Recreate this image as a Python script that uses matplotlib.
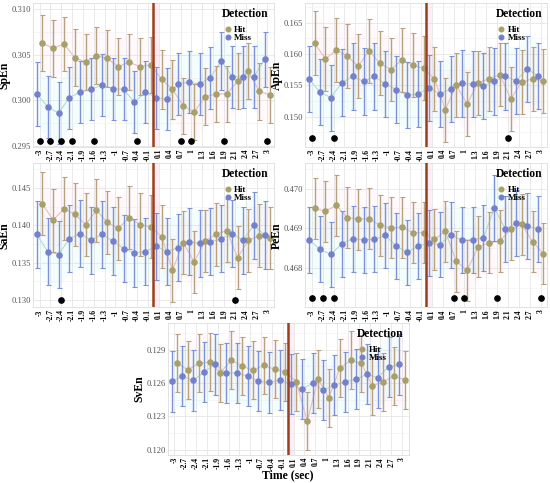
import matplotlib
matplotlib.use('Agg')
import matplotlib.pyplot as plt
from matplotlib.lines import Line2D
from matplotlib.ticker import MultipleLocator
import numpy as np

plt.rcParams['font.family'] = ['Liberation Serif', 'DejaVu Serif']

time_labels = ['-3', '-2.7', '-2.4', '-2.1', '-1.9', '-1.6', '-1.3', '-1', '-0.7', '-0.4', '-0.1',
               '0.1', '0.4', '0.7', '1', '1.3', '1.6', '1.9', '2.1', '2.4', '2.7', '3']

spen_hit = [0.3063, 0.3057, 0.3062, 0.3047, 0.3042, 0.3049, 0.3046, 0.3037, 0.3042, 0.3037, 0.3039,
            0.3023, 0.3012, 0.2994, 0.2987, 0.3004, 0.3007, 0.3007, 0.3021, 0.3032, 0.3010, 0.3006]
spen_miss = [0.3007, 0.2993, 0.2986, 0.3003, 0.3009, 0.3012, 0.3017, 0.3013, 0.3012, 0.2998, 0.3009,
             0.3003, 0.3001, 0.3018, 0.3020, 0.3018, 0.3025, 0.3043, 0.3026, 0.3026, 0.3026, 0.3045]
spen_hit_err = [0.0031, 0.0031, 0.0030, 0.0031, 0.0031, 0.0031, 0.0031, 0.0031, 0.0031, 0.0031, 0.0031,
                0.0032, 0.0032, 0.0031, 0.0031, 0.0031, 0.0031, 0.0031, 0.0031, 0.0031, 0.0031, 0.0031]
spen_miss_err = [0.0035, 0.0034, 0.0034, 0.0034, 0.0034, 0.0034, 0.0034, 0.0034, 0.0034, 0.0034, 0.0034,
                 0.0034, 0.0034, 0.0034, 0.0034, 0.0034, 0.0034, 0.0032, 0.0034, 0.0034, 0.0034, 0.0030]

apen_hit = [0.1617, 0.1592, 0.1606, 0.1597, 0.1580, 0.1605, 0.1585, 0.1575, 0.1590, 0.1582, 0.1577,
            0.1560, 0.1511, 0.1550, 0.1520, 0.1554, 0.1560, 0.1567, 0.1528, 0.1555, 0.1560, 0.1557]
apen_miss = [0.1560, 0.1539, 0.1530, 0.1554, 0.1564, 0.1556, 0.1564, 0.1552, 0.1543, 0.1534, 0.1536,
             0.1546, 0.1536, 0.1544, 0.1553, 0.1552, 0.1549, 0.1556, 0.1564, 0.1557, 0.1576, 0.1565]
apen_hit_err = [0.0051] * 22
apen_miss_err = [0.0053] * 22

saen_hit = [0.1429, 0.1407, 0.1422, 0.1415, 0.1401, 0.1420, 0.1404, 0.1396, 0.1410, 0.1401, 0.1398,
            0.1385, 0.1340, 0.1377, 0.1351, 0.1379, 0.1388, 0.1393, 0.1357, 0.1380, 0.1386, 0.1383]
saen_miss = [0.1388, 0.1365, 0.1361, 0.1382, 0.1389, 0.1380, 0.1388, 0.1379, 0.1369, 0.1363, 0.1365,
             0.1372, 0.1365, 0.1370, 0.1378, 0.1376, 0.1378, 0.1382, 0.1389, 0.1380, 0.1400, 0.1387]
saen_hit_err = [0.0042] * 22
saen_miss_err = [0.0045] * 22

peen_hit = [0.46950, 0.46943, 0.46958, 0.46927, 0.46923, 0.46924, 0.46908, 0.46901, 0.46903, 0.46889, 0.46889,
            0.46872, 0.46892, 0.46817, 0.46794, 0.46853, 0.46863, 0.46868, 0.46897, 0.46910, 0.46866, 0.46836]
peen_miss = [0.46871, 0.46847, 0.46834, 0.46861, 0.46874, 0.46871, 0.46872, 0.46882, 0.46855, 0.46839, 0.46855,
             0.46863, 0.46859, 0.46884, 0.46870, 0.46871, 0.46876, 0.46951, 0.46898, 0.46913, 0.46906, 0.46899]
peen_hit_err = [0.00077] * 22
peen_miss_err = [0.00083] * 22

sven_hit = [0.12782, 0.12717, 0.12779, 0.12788, 0.12693, 0.12806, 0.12752, 0.12714, 0.12758, 0.12723, 0.12702,
            0.12611, 0.12257, 0.12634, 0.12469, 0.12732, 0.12806, 0.12776, 0.12575, 0.12611, 0.12664, 0.12629]
sven_miss = [0.12614, 0.12664, 0.12623, 0.12702, 0.12767, 0.12693, 0.12690, 0.12664, 0.12617, 0.12605, 0.12626,
             0.12590, 0.12543, 0.12599, 0.12537, 0.12581, 0.12611, 0.12634, 0.12679, 0.12649, 0.12744, 0.12767]
sven_hit_err = [0.0026] * 22
sven_miss_err = [0.0027] * 22

spen_sig = [0, 1, 2, 3, 5, 9, 13, 14, 17, 21]
apen_sig = [0, 2, 18]
saen_sig = [2, 18]
peen_sig = [0, 1, 2, 13, 14, 17, 21]
sven_sig = []

HIT = '#a89f6a'
MISS = '#7480cc'
HIT_EB = '#b9a07e'
MISS_EB = '#7d92d6'

fig = plt.figure(figsize=(5.5, 4.83), dpi=100)


def panel(rect, name, hit, hit_err, miss, miss_err, sig, sig_y, ylim, yticks, xlabel=None):
    ax = fig.add_axes(rect)
    x = np.arange(len(time_labels))
    xh = x + 0.25
    xm = x - 0.25
    hit = np.array(hit); miss = np.array(miss)
    he = np.array(hit_err); me = np.array(miss_err)
    ax.fill_between(xh, hit - he, hit + he, color='#ff9ec8', alpha=0.06, lw=0, zorder=1)
    ax.fill_between(xm, miss - me, miss + me, color='#7fe8e8', alpha=0.08, lw=0, zorder=1)
    ax.axvspan(10.5, 11.05, color='#ffc8e0', alpha=0.3, lw=0, zorder=1)
    ax.plot(xh, hit, color='#e8bcbc', lw=0.8, zorder=2)
    ax.plot(xm, miss, color='#acdcd6', lw=0.8, zorder=2)
    ax.errorbar(xh, hit, yerr=he, fmt='none', ecolor=HIT_EB, elinewidth=1.0, capsize=1.8, capthick=0.8, zorder=3)
    ax.errorbar(xm, miss, yerr=me, fmt='none', ecolor=MISS_EB, elinewidth=1.0, capsize=1.8, capthick=0.8, zorder=3)
    ax.plot(xh, hit, 'o', color=HIT, ms=3.7, zorder=4)
    ax.plot(xm, miss, 'o', color=MISS, ms=3.7, zorder=4)
    if sig:
        ax.plot(sig, [sig_y] * len(sig), 'o', color='black', ms=3.8, zorder=5)
    ax.axvline(10.5, color='#9a3f1c', lw=1.8, zorder=6)
    ax.set_xlim(-0.6, 21.6)
    ax.set_ylim(*ylim)
    ax.set_yticks(yticks)
    ax.set_yticklabels([f'{t:.3f}' for t in yticks], fontsize=6.2, color='#555555')
    ax.set_xticks(x)
    ax.set_xticklabels(time_labels, rotation=90, fontsize=5.5, fontweight='bold')
    step = yticks[1] - yticks[0]
    ax.yaxis.set_minor_locator(MultipleLocator(step / 2))
    ax.grid(True, which='major', color='#e6e6e6', lw=0.6)
    ax.grid(True, which='minor', axis='y', color='#f0f0f0', lw=0.4)
    ax.set_axisbelow(True)
    ax.tick_params(length=0, pad=1.5)
    ax.tick_params(which='minor', length=0)
    for s in ax.spines.values():
        s.set_color('#dddddd')
        s.set_linewidth(0.6)
    ax.set_ylabel(name, fontsize=8.5, fontweight='bold', labelpad=0.5)
    if xlabel:
        ax.set_xlabel(xlabel, fontsize=8.5, fontweight='bold', labelpad=0)
    handles = [Line2D([], [], marker='o', ls='none', color=HIT, ms=3.3, label='Hit'),
               Line2D([], [], marker='o', ls='none', color=MISS, ms=3.3, label='Miss')]
    leg = ax.legend(handles=handles, title='Detection', loc='upper right', frameon=False,
                    fontsize=6.5, handletextpad=0.1, borderaxespad=0.25, labelspacing=0.0,
                    handlelength=1.2, alignment='left', borderpad=0.3)
    leg.get_title().set_fontweight('bold')
    leg.get_title().set_fontsize(8.3)
    leg._legend_box.sep = 4
    for t in leg.get_texts():
        t.set_fontweight('bold')
    return ax


panel([0.060, 0.696, 0.438, 0.298], 'SpEn', spen_hit, spen_hit_err, spen_miss, spen_miss_err,
      spen_sig, 0.2955, (0.2949, 0.3107), [0.295, 0.300, 0.305, 0.310])
panel([0.555, 0.696, 0.440, 0.298], 'ApEn', apen_hit, apen_hit_err, apen_miss, apen_miss_err,
      apen_sig, 0.1466, (0.14516, 0.16814), [0.150, 0.155, 0.160, 0.165])
panel([0.060, 0.364, 0.438, 0.298], 'SaEn', saen_hit, saen_hit_err, saen_miss, saen_miss_err,
      saen_sig, 0.1300, (0.12906, 0.1483), [0.130, 0.135, 0.140, 0.145])
panel([0.555, 0.364, 0.440, 0.298], 'PeEn', peen_hit, peen_hit_err, peen_miss, peen_miss_err,
      peen_sig, 0.46723, (0.46701, 0.47064), [0.468, 0.469, 0.470])
panel([0.305, 0.058, 0.438, 0.273], 'SvEn', sven_hit, sven_hit_err, sven_miss, sven_miss_err,
      sven_sig, 0.1200, (0.11953, 0.13139), [0.120, 0.123, 0.126, 0.129], xlabel='Time (sec)')

fig.savefig('out.png', dpi=100)
